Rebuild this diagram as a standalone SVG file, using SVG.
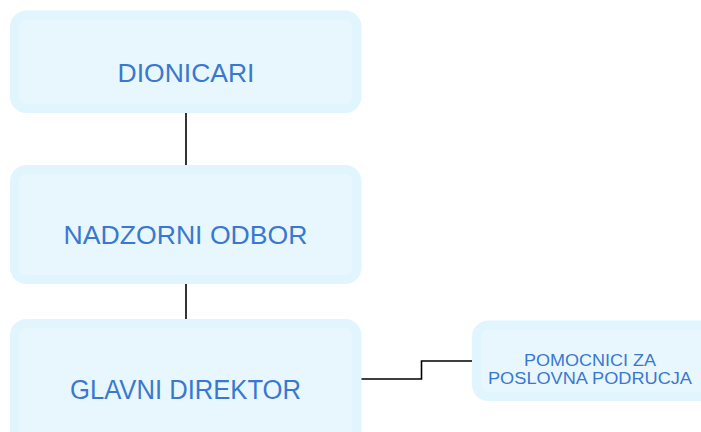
<svg xmlns="http://www.w3.org/2000/svg" width="701" height="432" viewBox="0 0 701 432">
<style>
.box{fill:#e8f7fd;stroke:#e0f5fd;stroke-width:9}
.t{fill:#3a78d0;font-family:"Liberation Sans",Arial,sans-serif;text-anchor:middle}
.c{fill:none;stroke:#000;stroke-width:1.6}
</style>
<rect width="701" height="432" fill="#fff"/>
<g id="connectors">
<line class="c" x1="186" y1="113" x2="186" y2="165"/>
<line class="c" x1="186" y1="284" x2="186" y2="319"/>
<polyline class="c" points="359,379 421.5,379 421.5,361 475,361"/>
</g>
<g id="dionicari">
<rect class="box" x="14.5" y="15" width="342.5" height="93.5" rx="12"/>
<text class="t" x="186" y="82" font-size="26.5" textLength="137" lengthAdjust="spacingAndGlyphs">DIONICARI</text>
</g>
<g id="nadzorni-odbor">
<rect class="box" x="14.5" y="169.5" width="342.5" height="110" rx="12"/>
<text class="t" x="185.5" y="244" font-size="26" textLength="244" lengthAdjust="spacingAndGlyphs">NADZORNI ODBOR</text>
</g>
<g id="glavni-direktor">
<rect class="box" x="14.5" y="323.5" width="342.5" height="130" rx="12"/>
<text class="t" x="185.5" y="399" font-size="27" textLength="231" lengthAdjust="spacingAndGlyphs">GLAVNI DIREKTOR</text>
</g>
<g id="pomocnici">
<rect class="box" x="476.5" y="325" width="240" height="71.5" rx="12"/>
<text class="t" x="590" y="365.5" font-size="16" textLength="132" lengthAdjust="spacingAndGlyphs">POMOCNICI ZA</text>
<text class="t" x="590" y="383.5" font-size="16" textLength="204" lengthAdjust="spacingAndGlyphs">POSLOVNA PODRUCJA</text>
</g>
</svg>
